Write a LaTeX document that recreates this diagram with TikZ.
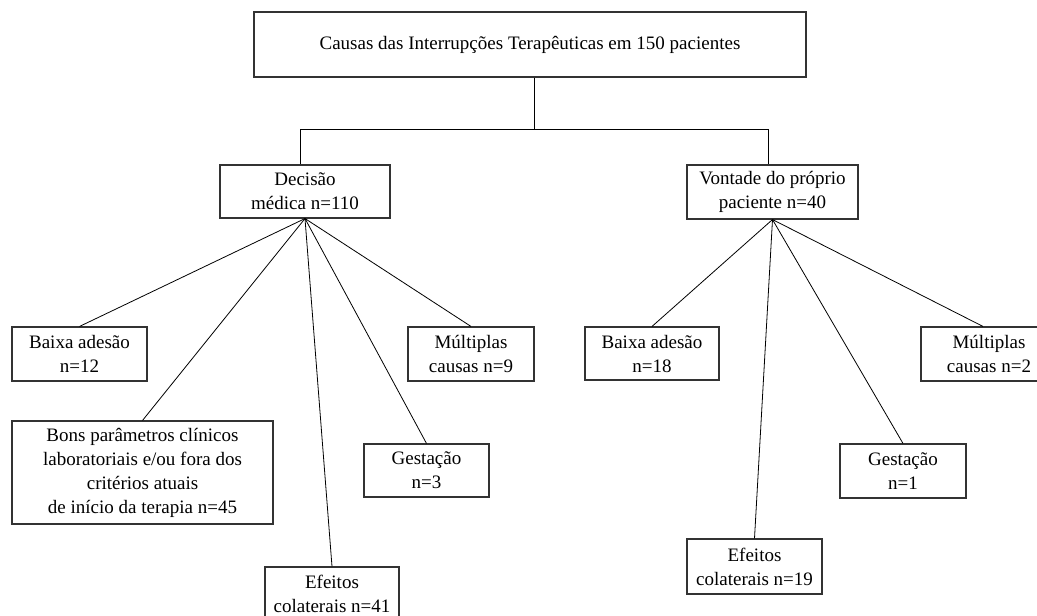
\documentclass[tikz,border=0pt]{standalone}
\usepackage{fontspec}
\setmainfont{Liberation Serif}
\begin{document}
\begin{tikzpicture}[x=1pt,y=-1pt,
  box/.style={draw=black!80, line width=1.1pt, inner sep=0pt, align=center,
    font=\fontsize{19}{24}\selectfont},
  link/.style={draw=black, line width=0.8pt}]
\useasboundingbox (0,0) rectangle (1037,616);
\clip (0,0) rectangle (1037,616);
\fill[white] (0,0) rectangle (1037,616);

\node[box, minimum width=552pt, minimum height=65pt] (top) at (530,44.5)
  {Causas das Interrupções Terapêuticas em 150 pacientes};

\node[box, minimum width=170pt, minimum height=53pt] (dec) at (305,191.5)
  {Decisão\\médica n=110};
\node[box, minimum width=171pt, minimum height=54pt] (von) at (772.5,192)
  {Vontade do próprio\\paciente n=40};

\node[box, minimum width=135pt, minimum height=54pt] (b12) at (79.5,354)
  {Baixa adesão\\n=12};
\node[box, minimum width=261pt, minimum height=103pt] (bons) at (142.5,472.5)
  {Bons parâmetros clínicos\\laboratoriais e/ou fora dos\\critérios atuais\\de início da terapia n=45};
\node[box, minimum width=134pt, minimum height=53pt] (e41) at (332,593.5)
  {Efeitos\\colaterais n=41};
\node[box, minimum width=125pt, minimum height=53pt] (g3) at (426.5,470.5)
  {Gestação\\n=3};
\node[box, minimum width=126pt, minimum height=54pt] (m9) at (471,354)
  {Múltiplas\\causas n=9};

\node[box, minimum width=134pt, minimum height=53pt] (b18) at (652,353.5)
  {Baixa adesão\\n=18};
\node[box, minimum width=136pt, minimum height=54pt] (m2) at (989,354)
  {Múltiplas\\causas n=2};
\node[box, minimum width=126pt, minimum height=54pt] (g1) at (903,471)
  {Gestação\\n=1};
\node[box, minimum width=135pt, minimum height=55pt] (e19) at (754.5,566.5)
  {Efeitos\\colaterais n=19};

\coordinate (bar) at (0,129);
\draw[link] ([xshift=4pt]top.south) -- ([xshift=4pt]top.south |- bar);
\draw[link] ([xshift=-5pt]dec.north) -- ([xshift=-5pt]dec.north |- bar)
  -| ([xshift=-4.5pt]von.north);

\foreach \c in {b12,bons,e41,g3,m9}
  \draw[link] (dec.south) -- (\c.north);
\foreach \c in {b18,g1,e19}
  \draw[link] (von.south) -- (\c.north);
\draw[link] (von.south) -- ([xshift=-6pt]m2.north);
\end{tikzpicture}
\end{document}
